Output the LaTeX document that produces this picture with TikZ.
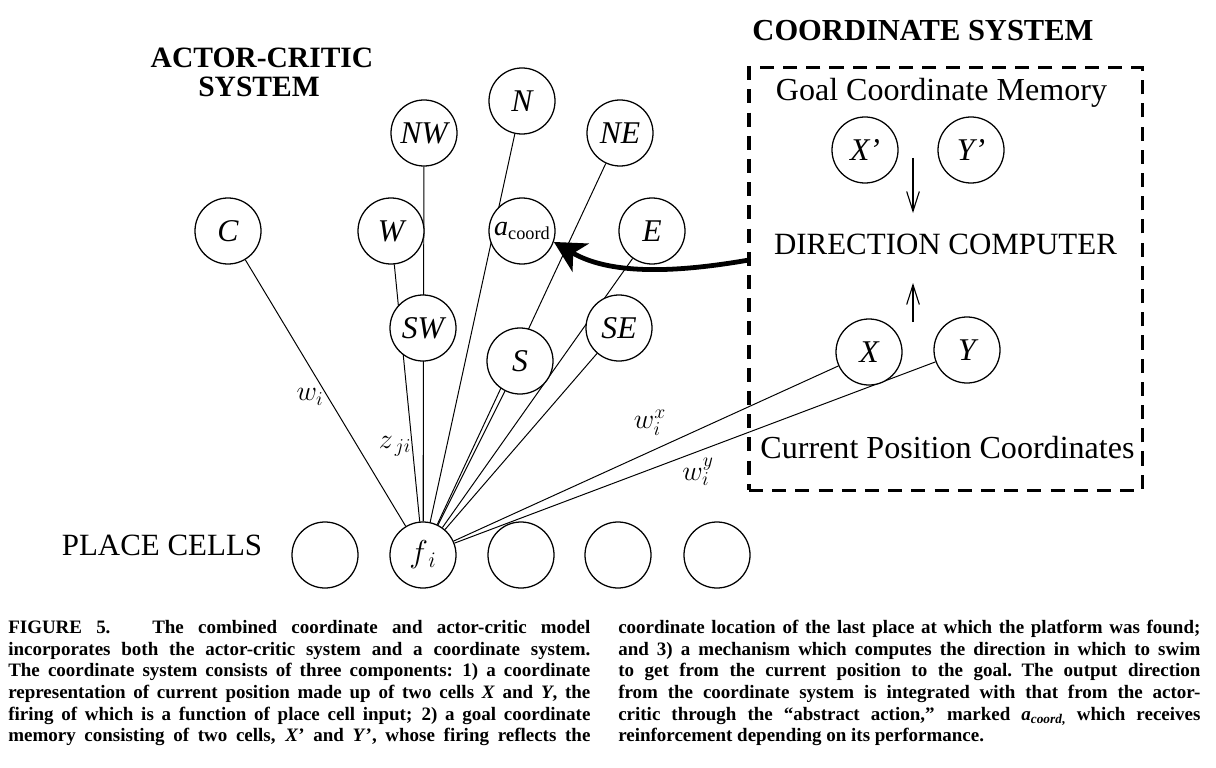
\RequirePackage{fix-cm}
\documentclass[tikz,border=0pt]{standalone}
\usepackage{fontspec}
\setmainfont{Liberation Serif}
\usetikzlibrary{arrows.meta,backgrounds}
\newcommand{\capline}[1]{\hbox to 14.55cm{#1}}
\begin{document}
\begin{tikzpicture}[x=0.025cm,y=-0.025cm,
  cell/.style={circle,draw,line width=0.9pt,fill=white,minimum size=1.65cm,inner sep=0pt,
    font=\fontsize{22.5}{26}\selectfont\itshape},
  link/.style={line width=0.7pt},
  dtext/.style={anchor=base,inner sep=0pt,font=\fontsize{22}{26}\selectfont},
  mtext/.style={anchor=base,inner sep=0pt,font=\fontsize{22.8}{26}\selectfont},
  ttext/.style={anchor=base,inner sep=0pt,font=\fontsize{21}{24}\selectfont\bfseries},
  wlabel/.style={inner sep=0pt,font=\fontsize{20}{24}\selectfont},
  frame/.style={draw,line width=2.2pt,dash pattern=on 10pt off 6.5pt},
  bigarrow/.style={line width=3.4pt,-{Stealth[length=22pt,width=23pt,inset=6pt]}},
  thinarrow/.style={line width=0.8pt,-{Straight Barb[length=14pt,width=9pt]}},
  captext/.style={anchor=north west,inner sep=0pt,text width=14.55cm,
    font=\fontsize{13.5}{15.4}\selectfont\bfseries}]
\useasboundingbox (0,0) rectangle (1216,768);

% titles
\node[ttext] (t1) at (262,68) {ACTOR-CRITIC};
\node[ttext] (t2) at (259,97) {SYSTEM};
\node[ttext,font=\fontsize{21.7}{24}\selectfont\bfseries] (t3) at (923,41) {COORDINATE SYSTEM};
\node[dtext] (pc) at (162,555) {PLACE CELLS};

% actor-critic cells
\node[cell] (N)  at (522,101) {N};
\node[cell] (NW) at (424,133) {NW};
\node[cell] (NE) at (620,133) {NE};
\node[cell] (C)  at (228,231) {C};
\node[cell] (W)  at (391,231) {W};
\node[cell,font=\fontsize{20}{24}\selectfont\itshape] (ac) at (522,231) {a\raisebox{-0.35ex}{\fontsize{13}{13}\selectfont\upshape coord}};
\node[cell] (E)  at (652,231) {E};
\node[cell] (SW) at (423,328) {SW};
\node[cell] (S)  at (520,361) {S};
\node[cell] (SE) at (619,328) {SE};

% place cells
\node[cell] (p1) at (325,555) {};
\node[cell] (fi) at (423,555) {$f_{\,i}$};
\node[cell] (p3) at (521,555) {};
\node[cell] (p4) at (618,555) {};
\node[cell] (p5) at (717,555) {};

% coordinate system
\node[frame,minimum width=9.825cm,minimum height=10.55cm,inner sep=0pt] (cbox) at (945.5,279) {};
\node[mtext] (gcm) at (941.5,101) {Goal Coordinate Memory};
\node[dtext] (dc)  at (945.5,255) {DIRECTION COMPUTER};
\node[mtext] (cpc) at (947.5,458) {Current Position Coordinates};
\node[cell] (Xp) at (865,150) {X’};
\node[cell] (Yp) at (971,150) {Y’};
\node[cell] (X)  at (869,352) {X};
\node[cell] (Y)  at (967,350) {Y};

\coordinate (d1) at (913,158);
\coordinate (d2) at (913,213);
\coordinate (u1) at (913,322);
\coordinate (u2) at (913,283);
\draw[thinarrow] (d1) -- (d2);
\draw[thinarrow] (u1) -- (u2);

\coordinate (cs) at (749,260);
\draw[bigarrow] (cs) .. controls (680,272) and (612,276) .. (ac.-19);

% weight labels
\node[wlabel] (lw) at (310,397) {$w_i$};
\node[wlabel] (lz) at (395,446) {$z_{\,ji}$};
\node[wlabel] (lx) at (650,423) {$w_i^x$};
\node[wlabel] (ly) at (698,472) {$w_i^y$};

\begin{pgfonlayer}{background}
  \foreach \n in {C,W,NW,SW,N,NE,S,E,SE,X,Y} \draw[link] (fi) -- (\n);
\end{pgfonlayer}

% caption
\node[captext] (capl) at (8,620) {\spaceskip=0.25em plus 1.5em minus 0.06em\relax
\capline{FIGURE 5.\hspace{2.2em}The combined coordinate and actor-critic model}
\capline{incorporates both the actor-critic system and a coordinate system.}
\capline{The coordinate system consists of three components: 1) a coordinate}
\capline{representation of current position made up of two cells \textit{X} and \textit{Y}, the}
\capline{firing of which is a function of place cell input; 2) a goal coordinate}
\capline{memory consisting of two cells, \textit{X}’ and \textit{Y}’, whose firing reflects the}};
\node[captext] (capr) at (618,620) {\spaceskip=0.25em plus 1.5em minus 0.06em\relax
\capline{coordinate location of the last place at which the platform was found;}
\capline{and 3) a mechanism which computes the direction in which to swim}
\capline{to get from the current position to the goal. The output direction}
\capline{from the coordinate system is integrated with that from the actor-}
\capline{critic through the “abstract action,” marked \textit{a}\textsubscript{\textit{coord},} which receives}
\hbox{reinforcement depending on its performance.}};
\end{tikzpicture}
\end{document}
